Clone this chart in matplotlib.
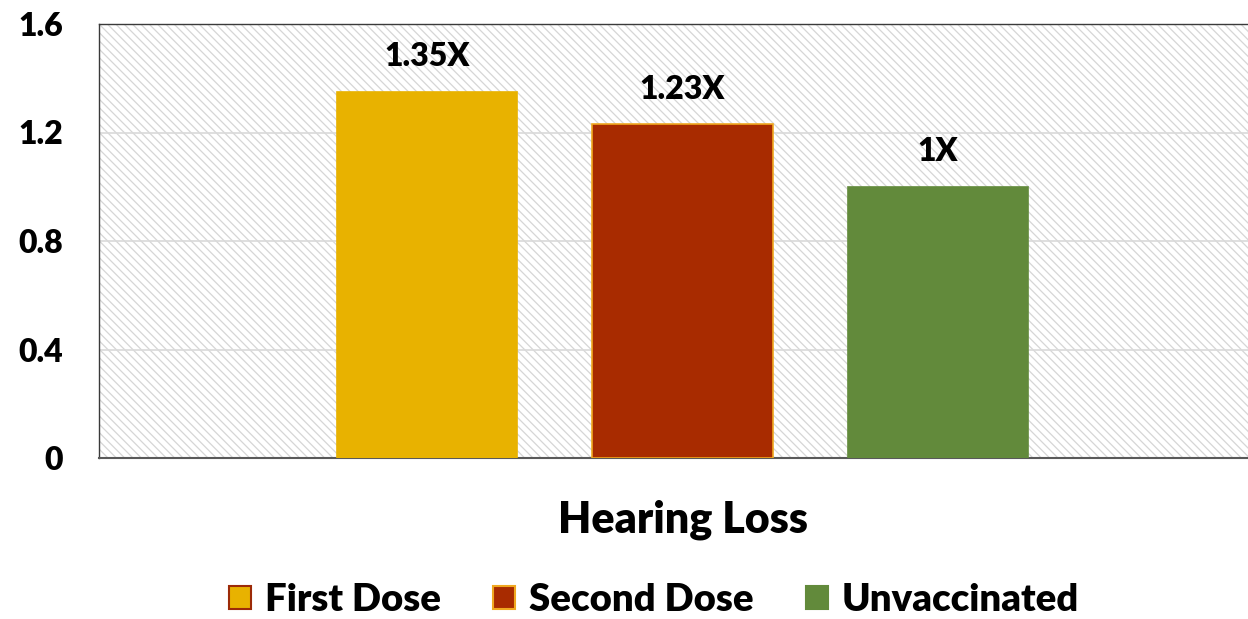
import matplotlib
matplotlib.use("Agg")
import matplotlib.pyplot as plt
from matplotlib.patches import Rectangle

category = "Hearing Loss"
series = ["First Dose", "Second Dose", "Unvaccinated"]
values = [1.35, 1.23, 1.0]
value_labels = ["1.35X", "1.23X", "1X"]
yticks = [0, 0.4, 0.8, 1.2, 1.6]
ytick_labels = ["0", "0.4", "0.8", "1.2", "1.6"]

face_colors = ["#E8B200", "#A82B00", "#628A3B"]
edge_colors = ["#E8B200", "#F0A820", "#628A3B"]
legend_edges = ["#9C2A08", "#F0A820", "#628A3B"]

plt.rcParams['font.family'] = ['Lato', 'DejaVu Sans']
plt.rcParams['font.weight'] = 'heavy'
plt.rcParams['hatch.linewidth'] = 0.9

W, H = 1248, 619
fig = plt.figure(figsize=(W / 100, H / 100), dpi=100)
left, right, top, bottom = 99, 1252, 24, 458
ax = fig.add_axes([left / W, (H - bottom) / H, (right - left) / W, (bottom - top) / H])

# hatched plot area background
bg = Rectangle((0, 0), 1, 1, transform=ax.transAxes, facecolor='white',
               edgecolor='#D6D6D6', hatch='\\\\\\\\', linewidth=0, zorder=0)
ax.add_patch(bg)

xs = [0, 1, 2]
for x, v, fc, ec, lab, name in zip(xs, values, face_colors, edge_colors, value_labels, series):
    ax.bar(x, v, width=0.705, color=fc, edgecolor=ec, linewidth=1.2, zorder=3, label=name)
    ax.annotate(lab, (x, v), xytext=(0, 15), textcoords='offset points',
                ha='center', va='bottom', fontsize=23, fontweight='heavy', color='black', zorder=4)

ax.set_ylim(0, 1.6)
ax.set_xlim(-1.284, 3.229)
ax.set_yticks(yticks)
ax.set_yticklabels(ytick_labels)
ax.tick_params(axis='y', length=0, pad=26, labelsize=23)
ax.set_xticks([1])
ax.set_xticklabels([category])
ax.tick_params(axis='x', length=0, pad=30, labelsize=31)

ax.grid(axis='y', color='#D9D9D9', linewidth=1.2, zorder=1)
ax.set_axisbelow(True)
for s in ['top', 'left', 'right']:
    ax.spines[s].set_color('#3A3A3A')
    ax.spines[s].set_linewidth(1.0)
ax.spines['bottom'].set_color('#595959')
ax.spines['bottom'].set_linewidth(1.5)

handles = [Rectangle((0, 0), 1, 1, facecolor=fc, edgecolor=le, linewidth=1.5)
           for fc, le in zip(face_colors, legend_edges)]
fig.legend(handles, series, loc='center', bbox_to_anchor=(654 / W, (H - 600) / H),
           ncol=3, frameon=False, fontsize=27.5, handlelength=0.58, handleheight=0.58,
           handletextpad=0.36, columnspacing=1.36)

fig.savefig('out.png', dpi=100)
